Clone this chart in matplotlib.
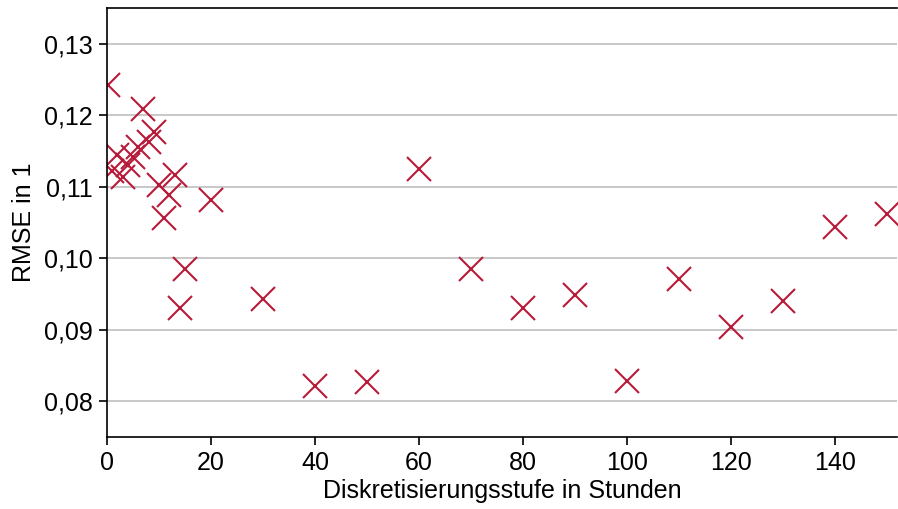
import matplotlib.pyplot as plt
from matplotlib.ticker import FuncFormatter

plt.rcParams["font.family"] = ["Liberation Sans", "DejaVu Sans"]

# Diskretisierungsstufe in Stunden and RMSE
steps = [0.2, 1, 2, 3, 4, 5, 6, 7, 8, 9, 10, 11, 12, 13, 14, 15, 20,
         30, 40, 50, 60, 70, 80, 90, 100, 110, 120, 130, 140, 150]
rmse = [0.1243, 0.1122, 0.1145, 0.1113, 0.1130, 0.1142, 0.1155, 0.1209,
        0.1163, 0.1177, 0.1102, 0.1056, 0.1088, 0.1116, 0.0930, 0.0985,
        0.1081, 0.0943, 0.0822, 0.0827, 0.1125, 0.0985, 0.0930, 0.0949,
        0.0829, 0.0971, 0.0904, 0.0940, 0.1044, 0.1062]

fig = plt.figure(figsize=(8.98, 5.09), dpi=100)
ax = fig.add_axes([107 / 898, 1 - 437 / 509, 790 / 898, 429 / 509])

ax.plot(steps, rmse, linestyle="none", marker="x", markersize=17,
        markeredgewidth=1.5, color="#B81A3A")

ax.set_xlim(0, 152)
ax.set_ylim(0.075, 0.135)
ax.set_xticks(range(0, 141, 20))
ax.set_yticks([0.08, 0.09, 0.10, 0.11, 0.12, 0.13])
ax.yaxis.set_major_formatter(FuncFormatter(lambda v, _: f"{v:.2f}".replace(".", ",")))
ax.grid(axis="y", color="#bfbfbf", linewidth=1.2)
ax.set_axisbelow(True)
ax.tick_params(labelsize=18, direction="out", length=6, width=1.2, pad=4)
for s in ax.spines.values():
    s.set_linewidth(1.2)
ax.spines["right"].set_visible(False)

ax.set_xlabel("Diskretisierungsstufe in Stunden", fontsize=18, labelpad=3)
ax.set_ylabel("RMSE in 1", fontsize=18, labelpad=6)

fig.savefig("out.png", dpi=100)
